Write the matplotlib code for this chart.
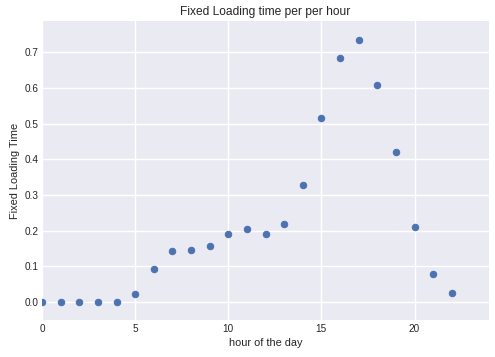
#Scatter of fixed loading time for each hour of the day

import matplotlib
matplotlib.use('Agg')
import matplotlib.pyplot as plt

hours = [0, 1, 2, 3, 4, 5, 6, 7, 8, 9, 10, 11, 12, 13, 14, 15, 16, 17, 18, 19, 20, 21, 22]
loading_time = [0.0, 0.0, 0.0, 0.0, 0.0, 0.024, 0.092, 0.142, 0.145, 0.156,
                0.192, 0.204, 0.192, 0.218, 0.327, 0.516, 0.685, 0.736,
                0.610, 0.422, 0.212, 0.080, 0.027]

plt.style.use('seaborn-v0_8-darkgrid')
plt.rcParams['font.family'] = ['Liberation Sans', 'DejaVu Sans']
plt.rcParams['grid.linewidth'] = 1.4

fig = plt.figure(figsize=(495 / 72, 357 / 72), dpi=72)
ax = fig.add_axes([42 / 495, 37 / 357, 447 / 495, 299 / 357])

ax.scatter(hours, loading_time, s=42, color='#4C72B0')
ax.set_xlim(0, 24)
ax.set_ylim(-0.05, 0.788)
ax.set_title('Fixed Loading time per per hour', fontsize=12)
ax.set_xlabel('hour of the day', fontsize=11)
ax.set_ylabel('Fixed Loading Time', fontsize=11)
ax.tick_params(labelsize=10)

fig.savefig('out.png', dpi=72)
